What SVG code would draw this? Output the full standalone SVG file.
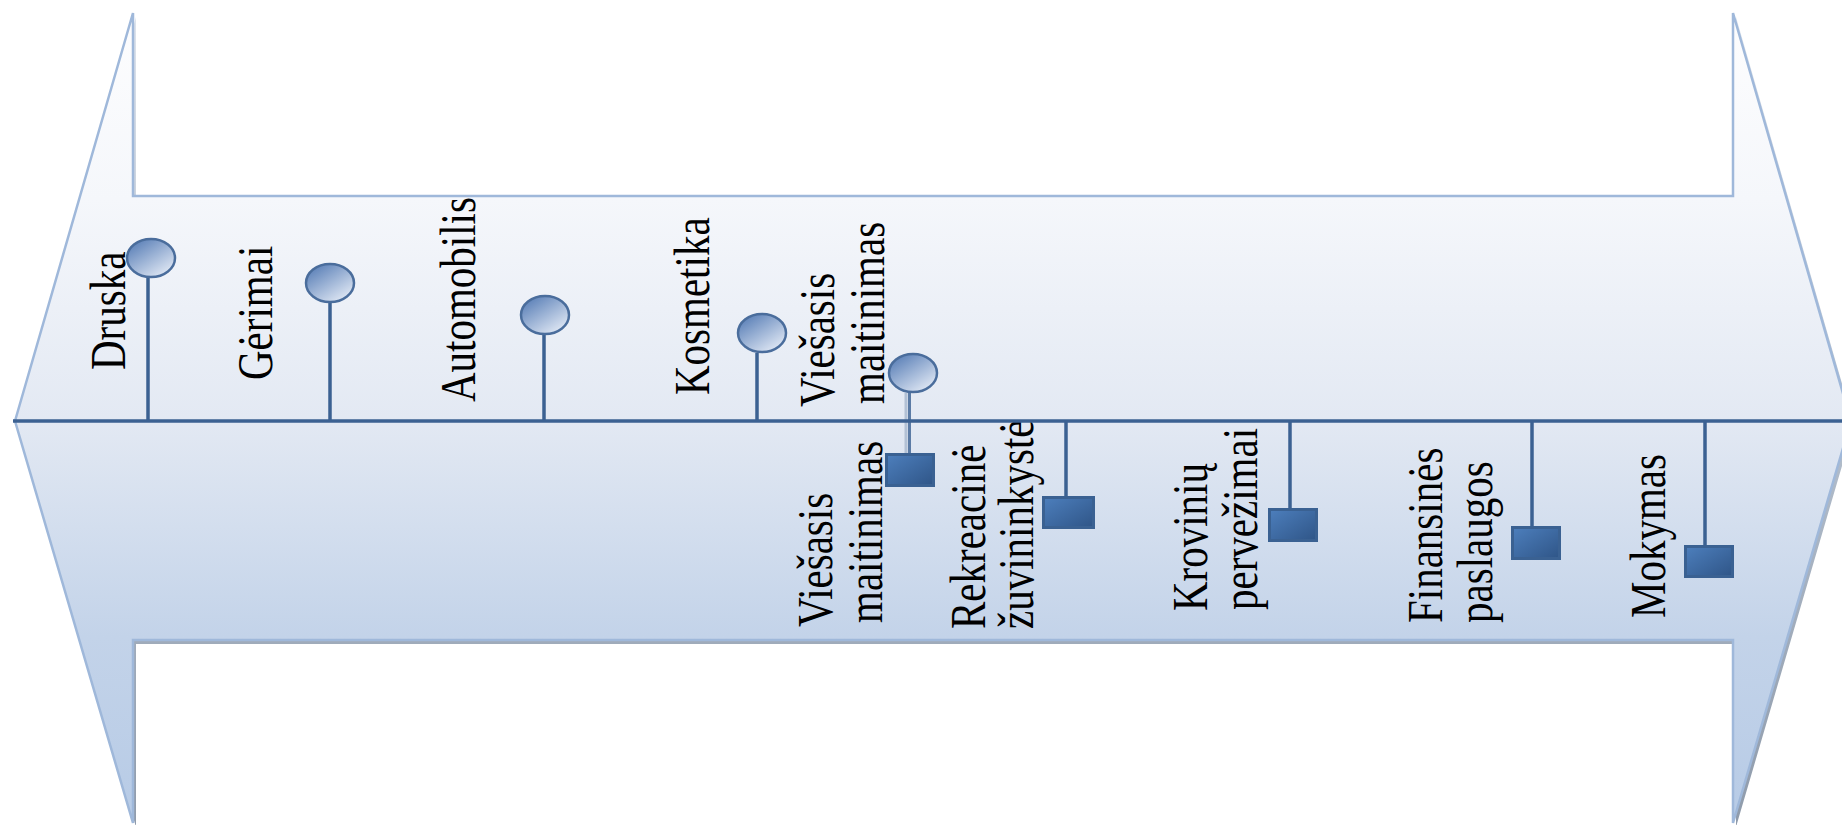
<svg xmlns="http://www.w3.org/2000/svg" width="1842" height="825" viewBox="0 0 1842 825">
<defs>
<linearGradient id="bodyGrad" gradientUnits="userSpaceOnUse" x1="0" y1="13" x2="0" y2="823">
<stop offset="0" stop-color="#fdfdfe"/>
<stop offset="0.23" stop-color="#f5f7fb"/>
<stop offset="0.5" stop-color="#e3e9f3"/>
<stop offset="0.77" stop-color="#c3d3e9"/>
<stop offset="1" stop-color="#b7cbe6"/>
</linearGradient>
<linearGradient id="shadowGrad" gradientUnits="userSpaceOnUse" x1="0" y1="13" x2="0" y2="823">
<stop offset="0" stop-color="#dde3ec"/>
<stop offset="0.5" stop-color="#b4bfcd"/>
<stop offset="1" stop-color="#8f9bab"/>
</linearGradient>
<linearGradient id="ballGrad" x1="0" y1="0" x2="0.8" y2="1">
<stop offset="0" stop-color="#4a73b0"/>
<stop offset="1" stop-color="#e4ebf6"/>
</linearGradient>
<linearGradient id="boxGrad" x1="0" y1="0" x2="1" y2="1">
<stop offset="0" stop-color="#4d7fbd"/>
<stop offset="1" stop-color="#2f5587"/>
</linearGradient>
</defs>
<style>
.lbl { font-family: "Liberation Serif", "Times New Roman", serif; font-size: 41px; fill: #000; }
.ball { fill: url(#ballGrad); stroke: #4a6d9c; stroke-width: 2.5; }
.box { fill: url(#boxGrad); stroke: #3a6192; stroke-width: 3; }
.stem { stroke: #3b6192; stroke-width: 3.5; fill: none; }
</style>
<rect x="0" y="0" width="1842" height="825" fill="#ffffff"/>
<g id="arrow">
<path d="M18,425 L136,17 L136,200 L1736,200 L1736,17 L1854,425 L1736,827 L1736,644 L136,644 L136,827 Z" fill="url(#shadowGrad)"/>
<path d="M15,421 L133,13 L133,196 L1733,196 L1733,13 L1851,421 L1733,823 L1733,640 L133,640 L133,823 Z" fill="url(#bodyGrad)" stroke="#9fb8da" stroke-width="2.5" stroke-linejoin="miter"/>
</g>
<g id="connectors">
<line class="stem" x1="148" y1="278" x2="148" y2="421"/>
<line class="stem" x1="330" y1="303" x2="330" y2="421"/>
<line class="stem" x1="544" y1="335" x2="544" y2="421"/>
<line class="stem" x1="757" y1="353" x2="757" y2="421"/>
<line x1="906" y1="393" x2="906" y2="453" stroke="#b2c1d5" stroke-width="3"/>
<line x1="909.5" y1="393" x2="909.5" y2="453" stroke="#5b7ba5" stroke-width="3"/>
<line class="stem" x1="1066" y1="421" x2="1066" y2="497"/>
<line class="stem" x1="1290" y1="421" x2="1290" y2="509"/>
<line class="stem" x1="1532" y1="421" x2="1532" y2="527"/>
<line class="stem" x1="1705" y1="421" x2="1705" y2="546"/>
</g>
<g id="node-druska">
<ellipse class="ball" cx="151" cy="258" rx="24" ry="19"/>
<text class="lbl" transform="translate(125,370) scale(1.22,1) rotate(-90)">Druska</text>
</g>
<g id="node-gerimai">
<ellipse class="ball" cx="330" cy="283" rx="24" ry="19"/>
<text class="lbl" transform="translate(272,380) scale(1.22,1) rotate(-90)">Gėrimai</text>
</g>
<g id="node-automobilis">
<ellipse class="ball" cx="545" cy="315" rx="24" ry="19"/>
<text class="lbl" transform="translate(475,402) scale(1.22,1) rotate(-90)">Automobilis</text>
</g>
<g id="node-kosmetika">
<ellipse class="ball" cx="762" cy="333" rx="24" ry="19"/>
<text class="lbl" transform="translate(709,395) scale(1.22,1) rotate(-90)">Kosmetika</text>
</g>
<g id="node-viesasis-top">
<ellipse class="ball" cx="913" cy="373" rx="24" ry="19"/>
<text class="lbl" transform="translate(834,407) scale(1.22,1) rotate(-90)">Viešasis</text>
<text class="lbl" transform="translate(884,404) scale(1.22,1) rotate(-90)">maitinimas</text>
</g>
<g id="node-viesasis-bottom">
<rect class="box" x="886.5" y="454.5" width="47" height="31"/>
<text class="lbl" transform="translate(832,627) scale(1.22,1) rotate(-90)">Viešasis</text>
<text class="lbl" transform="translate(882,623) scale(1.22,1) rotate(-90)">maitinimas</text>
</g>
<g id="node-rekreacine">
<rect class="box" x="1043.5" y="497.5" width="50" height="30"/>
<text class="lbl" transform="translate(985,629) scale(1.22,1) rotate(-90)">Rekreacinė</text>
<text class="lbl" transform="translate(1033,629) scale(1.22,1) rotate(-90)">žuvininkystė</text>
</g>
<g id="node-kroviniu">
<rect class="box" x="1269.5" y="509.5" width="47" height="31"/>
<text class="lbl" transform="translate(1207,611) scale(1.22,1) rotate(-90)">Krovinių</text>
<text class="lbl" transform="translate(1257,610) scale(1.22,1) rotate(-90)">pervežimai</text>
</g>
<g id="node-finansines">
<rect class="box" x="1512.5" y="527.5" width="47" height="31"/>
<text class="lbl" transform="translate(1442,623) scale(1.22,1) rotate(-90)">Finansinės</text>
<text class="lbl" transform="translate(1492,623) scale(1.22,1) rotate(-90)">paslaugos</text>
</g>
<g id="node-mokymas">
<rect class="box" x="1685.5" y="546.5" width="47" height="30"/>
<text class="lbl" transform="translate(1665,618) scale(1.22,1) rotate(-90)">Mokymas</text>
</g>
<line id="axis" x1="13" y1="421" x2="1842" y2="421" stroke="#3b6192" stroke-width="3.5"/>
</svg>
